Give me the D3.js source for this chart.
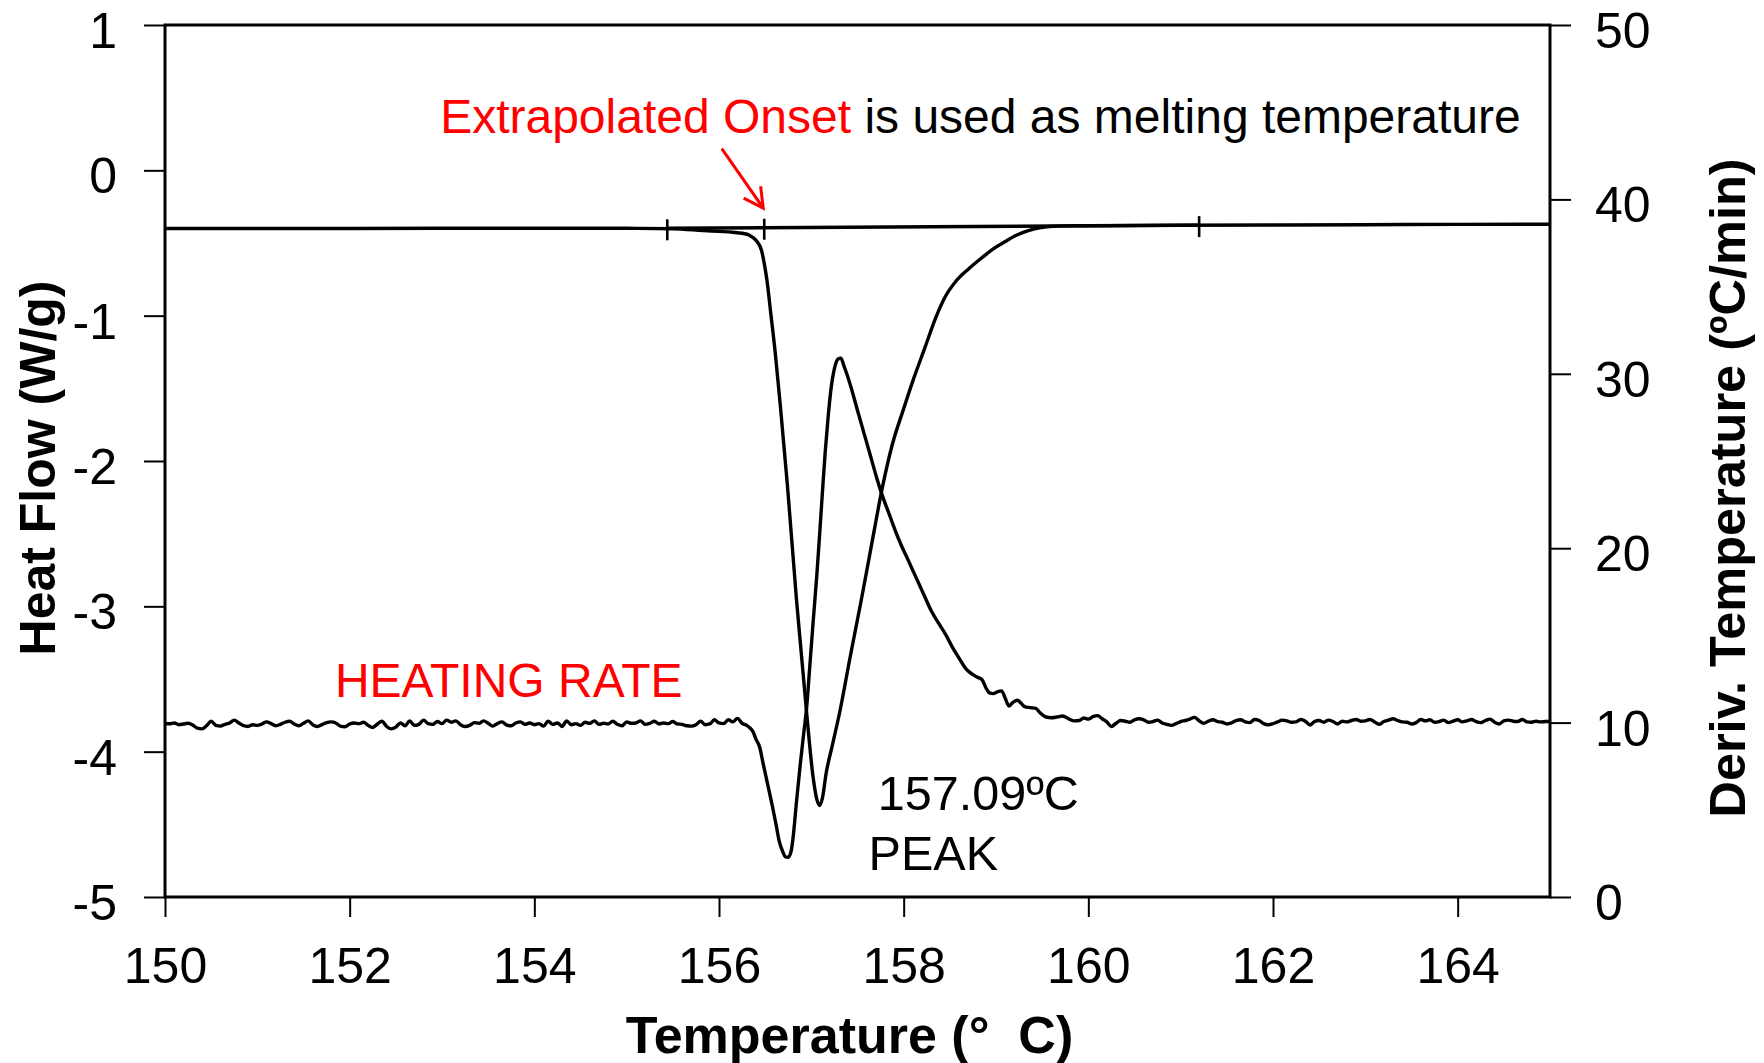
<!DOCTYPE html>
<html>
<head>
<meta charset="utf-8">
<script src="https://cdn.jsdelivr.net/npm/d3@7"></script>
<style>
  html, body { margin: 0; padding: 0; background: #fff; }
  svg { display: block; font-family: "Liberation Sans", Arial, Helvetica, sans-serif; }
</style>
</head>
<body>
<svg id="chart" width="1764" height="1063"></svg>
<script>
// ---- axis ticks ----
const tempTicks = [150, 152, 154, 156, 158, 160, 162, 164];
const heatFlowTicks = [-5, -4, -3, -2, -1, 0, 1];
const rateTicks = [0, 10, 20, 30, 40, 50];

// ---- DSC heat flow (W/g) vs temperature (°C) ----
const heatFlow = [
  [150.00, -0.400], [151.00, -0.400], [152.00, -0.400], [153.00, -0.399],
  [154.00, -0.399], [155.00, -0.399], [155.50, -0.402], [155.83, -0.414],
  [156.00, -0.420], [156.15, -0.426], [156.25, -0.433], [156.33, -0.447],
  [156.40, -0.481], [156.46, -0.550], [156.49, -0.640], [156.52, -0.760],
  [156.56, -0.980], [156.61, -1.260], [156.67, -1.660], [156.74, -2.160],
  [156.84, -2.960], [156.95, -3.740], [157.02, -4.180], [157.06, -4.330],
  [157.09, -4.370], [157.12, -4.320], [157.16, -4.150], [157.23, -3.950],
  [157.31, -3.720], [157.42, -3.350], [157.54, -2.960], [157.66, -2.550],
  [157.77, -2.180], [157.88, -1.880], [158.00, -1.640], [158.11, -1.430],
  [158.23, -1.220], [158.35, -1.010], [158.45, -0.870], [158.57, -0.760],
  [158.70, -0.680], [158.85, -0.600], [158.97, -0.540], [159.10, -0.490],
  [159.22, -0.447], [159.35, -0.415], [159.47, -0.396], [159.58, -0.386],
  [159.75, -0.382], [160.00, -0.381], [161.00, -0.378], [162.00, -0.376],
  [163.00, -0.374], [164.00, -0.372], [165.00, -0.371]
];

// ---- derivative of temperature: heating rate (°C/min) ----
const heatingRate = [
  [150.00, 9.95], [150.05, 9.93], [150.10, 9.98], [150.15, 9.88], [150.20, 9.92],
  [150.25, 9.96], [150.30, 9.86], [150.35, 9.68], [150.40, 9.64], [150.45, 9.82],
  [150.50, 10.08], [150.55, 9.84], [150.60, 9.80], [150.65, 9.90], [150.70, 9.98],
  [150.75, 10.14], [150.80, 9.98], [150.85, 9.82], [150.90, 9.78], [150.95, 9.88],
  [151.00, 9.84], [151.05, 9.92], [151.10, 10.04], [151.15, 9.94], [151.20, 9.82],
  [151.25, 9.90], [151.30, 10.02], [151.35, 10.08], [151.40, 9.92], [151.45, 9.82],
  [151.50, 9.96], [151.55, 10.10], [151.60, 9.88], [151.65, 9.78], [151.70, 9.88],
  [151.75, 10.00], [151.80, 10.04], [151.85, 9.98], [151.90, 9.80], [151.95, 9.76],
  [152.00, 9.92], [152.05, 9.98], [152.10, 9.94], [152.15, 10.02], [152.20, 9.84],
  [152.25, 9.72], [152.30, 9.92], [152.35, 10.08], [152.40, 9.78], [152.45, 9.64],
  [152.50, 9.74], [152.55, 9.98], [152.60, 9.82], [152.65, 10.10], [152.70, 9.84],
  [152.75, 9.90], [152.80, 10.14], [152.85, 9.94], [152.90, 9.90], [152.95, 10.06],
  [153.00, 9.94], [153.05, 10.14], [153.10, 10.02], [153.15, 10.10], [153.20, 9.88],
  [153.25, 9.78], [153.30, 9.84], [153.35, 10.00], [153.40, 9.96], [153.45, 10.10],
  [153.50, 9.96], [153.55, 9.80], [153.60, 9.94], [153.65, 10.04], [153.70, 9.86],
  [153.75, 9.82], [153.80, 9.98], [153.85, 10.04], [153.90, 9.90], [153.95, 9.98],
  [154.00, 9.88], [154.05, 9.94], [154.10, 9.80], [154.15, 10.08], [154.20, 9.90],
  [154.25, 9.98], [154.30, 9.78], [154.35, 10.10], [154.40, 9.88], [154.45, 9.94],
  [154.50, 9.84], [154.55, 10.02], [154.60, 9.96], [154.65, 10.10], [154.70, 9.90],
  [154.75, 9.96], [154.80, 9.92], [154.85, 10.08], [154.90, 9.90], [154.95, 9.82],
  [155.00, 10.04], [155.05, 9.96], [155.10, 9.98], [155.15, 10.10], [155.20, 9.90],
  [155.25, 9.96], [155.30, 10.08], [155.35, 9.92], [155.40, 9.98], [155.45, 9.94],
  [155.50, 10.06], [155.55, 9.92], [155.60, 9.90], [155.65, 9.82], [155.70, 9.80],
  [155.75, 9.88], [155.80, 10.08], [155.85, 9.88], [155.90, 9.92], [155.95, 10.16],
  [156.00, 9.98], [156.05, 9.94], [156.10, 10.16], [156.15, 10.04], [156.20, 10.24],
  [156.25, 9.96], [156.30, 9.84], [156.33, 9.72], [156.37, 9.46], [156.40, 9.05],
  [156.44, 8.60], [156.48, 7.60], [156.51, 6.88], [156.55, 5.90], [156.58, 5.16],
  [156.62, 4.10], [156.65, 3.25], [156.69, 2.60], [156.72, 2.30], [156.75, 2.28],
  [156.78, 2.60], [156.80, 3.30], [156.84, 5.50], [156.88, 7.60], [156.92, 9.50],
  [156.95, 10.90], [156.98, 13.00], [157.02, 15.80], [157.06, 18.50], [157.09, 20.80],
  [157.12, 23.20], [157.15, 25.50], [157.18, 27.40], [157.21, 29.00], [157.25, 30.30],
  [157.29, 30.85], [157.32, 30.90], [157.35, 30.50], [157.39, 29.90], [157.42, 29.40],
  [157.50, 27.90], [157.57, 26.60], [157.64, 25.30], [157.71, 24.00], [157.77, 23.00],
  [157.84, 22.00], [157.91, 21.00], [157.98, 20.10], [158.05, 19.30], [158.11, 18.60],
  [158.17, 17.90], [158.23, 17.20], [158.30, 16.40], [158.39, 15.60], [158.46, 15.00],
  [158.53, 14.30], [158.60, 13.70], [158.68, 13.05], [158.75, 12.75], [158.80, 12.60],
  [158.85, 12.45], [158.89, 12.00], [158.93, 11.70], [158.97, 11.66], [159.02, 11.78],
  [159.06, 11.82], [159.10, 11.40], [159.14, 10.95], [159.18, 11.15], [159.23, 11.28],
  [159.27, 11.12], [159.31, 10.92], [159.37, 10.86], [159.43, 10.82], [159.48, 10.55],
  [159.54, 10.32], [159.60, 10.28], [159.66, 10.32], [159.72, 10.38], [159.76, 10.30],
  [159.80, 10.18], [159.85, 10.10], [159.90, 10.12], [159.95, 10.26], [160.00, 10.20],
  [160.05, 10.34], [160.10, 10.40], [160.15, 10.22], [160.20, 10.04], [160.25, 9.78],
  [160.30, 9.96], [160.35, 10.12], [160.40, 10.08], [160.45, 10.02], [160.50, 10.16],
  [160.55, 10.22], [160.60, 10.16], [160.65, 10.02], [160.70, 10.06], [160.75, 10.14],
  [160.80, 9.98], [160.85, 9.90], [160.90, 9.84], [160.95, 9.94], [161.00, 10.06],
  [161.05, 10.12], [161.10, 10.20], [161.15, 10.30], [161.20, 10.10], [161.25, 9.96],
  [161.30, 10.08], [161.35, 10.16], [161.40, 10.06], [161.45, 10.02], [161.50, 9.92],
  [161.55, 9.98], [161.60, 10.12], [161.65, 10.16], [161.70, 10.04], [161.75, 10.00],
  [161.80, 10.18], [161.85, 10.12], [161.90, 9.94], [161.95, 9.88], [162.00, 9.94],
  [162.05, 10.04], [162.10, 10.14], [162.15, 10.10], [162.20, 10.02], [162.25, 10.04],
  [162.30, 10.18], [162.35, 10.08], [162.40, 9.86], [162.45, 10.06], [162.50, 10.12],
  [162.55, 10.02], [162.60, 10.14], [162.65, 10.06], [162.70, 9.92], [162.75, 10.08],
  [162.80, 10.04], [162.85, 10.12], [162.90, 10.18], [162.95, 10.08], [163.00, 10.10],
  [163.05, 10.18], [163.10, 10.04], [163.15, 9.90], [163.20, 10.06], [163.25, 10.14],
  [163.30, 10.22], [163.35, 10.12], [163.40, 10.04], [163.45, 10.02], [163.50, 9.92],
  [163.55, 10.00], [163.60, 10.18], [163.65, 10.10], [163.70, 10.16], [163.75, 10.02],
  [163.80, 10.06], [163.85, 10.14], [163.90, 10.00], [163.95, 10.08], [164.00, 10.16],
  [164.05, 10.04], [164.10, 10.10], [164.15, 10.18], [164.20, 10.06], [164.25, 10.00],
  [164.30, 10.12], [164.35, 10.20], [164.40, 10.02], [164.45, 9.92], [164.50, 10.10],
  [164.55, 10.14], [164.60, 10.08], [164.65, 10.06], [164.70, 10.18], [164.75, 10.04],
  [164.80, 10.02], [164.85, 10.08], [164.90, 10.04], [164.95, 10.06], [165.00, 10.06]
];

// ---- integration baseline and its markers ----
const baselineStart = [155.44, -0.399];
const baselineEnd = [161.20, -0.377];
const onsetTemp = 156.49;
const peakTemp = 157.09;

// ---- layout ----
const svg = d3.select("#chart");
const plot = { left: 165, right: 1550, top: 25, bottom: 897 };

const x = d3.scaleLinear().domain([150, 165]).range([plot.left, plot.right]);
const yHF = d3.scaleLinear().domain([-5, 1]).range([plot.bottom, plot.top]);
const yRate = d3.scaleLinear().domain([0, 50]).range([plot.bottom, plot.top]);

const tickFont = 50;

function styleAxis(g) {
  g.select(".domain").remove();
  g.selectAll(".tick line").attr("stroke", "#000").attr("stroke-width", 2);
  g.selectAll(".tick text")
    .attr("fill", "#000")
    .attr("font-size", tickFont)
    .attr("font-family", "Liberation Sans, Arial, Helvetica, sans-serif");
}

// bottom temperature axis
svg.append("g")
  .attr("transform", `translate(0,${plot.bottom})`)
  .call(d3.axisBottom(x).tickValues(tempTicks).tickSize(20).tickSizeOuter(0)
    .tickPadding(30).tickFormat(d => String(d)))
  .call(styleAxis);

// left heat flow axis
svg.append("g")
  .attr("transform", `translate(${plot.left},0)`)
  .call(d3.axisLeft(yHF).tickValues(heatFlowTicks).tickSize(21).tickSizeOuter(0)
    .tickPadding(27).tickFormat(d => String(d)))
  .call(styleAxis)
  .call(g => g.selectAll(".tick text").attr("dy", "0.45em"));

// right heating-rate axis
svg.append("g")
  .attr("transform", `translate(${plot.right},0)`)
  .call(d3.axisRight(yRate).tickValues(rateTicks).tickSize(21).tickSizeOuter(0)
    .tickPadding(24).tickFormat(d => String(d)))
  .call(styleAxis)
  .call(g => g.selectAll(".tick text").attr("dy", "0.45em"));

// plot frame
svg.append("rect")
  .attr("x", plot.left).attr("y", plot.top)
  .attr("width", plot.right - plot.left).attr("height", plot.bottom - plot.top)
  .attr("fill", "none").attr("stroke", "#000").attr("stroke-width", 3);

svg.append("clipPath").attr("id", "plot-clip")
  .append("rect")
  .attr("x", plot.left).attr("y", plot.top)
  .attr("width", plot.right - plot.left).attr("height", plot.bottom - plot.top);

const curves = svg.append("g").attr("clip-path", "url(#plot-clip)");

// heating rate trace
curves.append("path")
  .datum(heatingRate)
  .attr("fill", "none").attr("stroke", "#000").attr("stroke-width", 3.4)
  .attr("stroke-linejoin", "round")
  .attr("d", d3.line().x(d => x(d[0])).y(d => yRate(d[1])).curve(d3.curveMonotoneX));

// heat flow trace
curves.append("path")
  .datum(heatFlow)
  .attr("fill", "none").attr("stroke", "#000").attr("stroke-width", 3.4)
  .attr("stroke-linejoin", "round")
  .attr("d", d3.line().x(d => x(d[0])).y(d => yHF(d[1])).curve(d3.curveMonotoneX));

// integration baseline
curves.append("line")
  .attr("x1", x(baselineStart[0])).attr("y1", yHF(baselineStart[1]))
  .attr("x2", x(baselineEnd[0])).attr("y2", yHF(baselineEnd[1]))
  .attr("stroke", "#000").attr("stroke-width", 3.4);

// limit / onset markers on the baseline
const baselineAt = t => baselineStart[1] +
  (baselineEnd[1] - baselineStart[1]) * (t - baselineStart[0]) / (baselineEnd[0] - baselineStart[0]);
[baselineStart[0], onsetTemp, baselineEnd[0]].forEach(t => {
  const cy = yHF(baselineAt(t));
  curves.append("line")
    .attr("x1", x(t)).attr("x2", x(t))
    .attr("y1", cy - 9).attr("y2", cy + 12)
    .attr("stroke", "#000").attr("stroke-width", 2.6);
});

// red arrow pointing at the extrapolated onset
const tip = [x(onsetTemp) - 1, yHF(-0.26)];
const tail = [x(156.03), yHF(0.15)];
const ang = Math.atan2(tip[1] - tail[1], tip[0] - tail[0]);
const barbLen = 22, spread = 28 * Math.PI / 180;
const barbA = [tip[0] - barbLen * Math.cos(ang - spread), tip[1] - barbLen * Math.sin(ang - spread)];
const barbB = [tip[0] - barbLen * Math.cos(ang + spread), tip[1] - barbLen * Math.sin(ang + spread)];
svg.append("line")
  .attr("x1", tail[0]).attr("y1", tail[1]).attr("x2", tip[0]).attr("y2", tip[1])
  .attr("stroke", "#ff0000").attr("stroke-width", 3);
svg.append("path")
  .attr("d", `M${barbA[0]},${barbA[1]}L${tip[0]},${tip[1]}L${barbB[0]},${barbB[1]}`)
  .attr("fill", "none").attr("stroke", "#ff0000").attr("stroke-width", 3)
  .attr("stroke-linejoin", "miter");

// annotations
const note = svg.append("text")
  .attr("x", x(152.98)).attr("y", yHF(0.255))
  .attr("font-size", 48).attr("fill", "#000");
note.append("tspan").attr("fill", "#ff0000").text("Extrapolated Onset");
note.append("tspan").text(" is used as melting temperature");

svg.append("text")
  .attr("x", x(151.84)).attr("y", yRate(11.46))
  .attr("font-size", 48).attr("fill", "#ff0000")
  .text("HEATING RATE");

svg.append("text")
  .attr("x", x(157.72)).attr("y", yRate(5.0))
  .attr("font-size", 48.5).attr("fill", "#000")
  .text(peakTemp.toFixed(2) + "\u00BAC");

svg.append("text")
  .attr("x", x(157.62)).attr("y", yRate(1.53))
  .attr("font-size", 48.5).attr("fill", "#000")
  .text("PEAK");

// axis titles
svg.append("text")
  .attr("x", (plot.left + plot.right) / 2 - 8).attr("y", 1053)
  .attr("text-anchor", "middle").attr("font-size", 52).attr("font-weight", "bold")
  .attr("xml:space", "preserve")
  .text("Temperature (\u00B0  C)");

svg.append("text")
  .attr("transform", `translate(55,468) rotate(-90)`)
  .attr("text-anchor", "middle").attr("font-size", 50).attr("font-weight", "bold")
  .text("Heat Flow (W/g)");

svg.append("text")
  .attr("transform", `translate(1745,488) rotate(-90)`)
  .attr("text-anchor", "middle").attr("font-size", 50.5).attr("font-weight", "bold")
  .text("Deriv. Temperature (\u00BAC/min)");
</script>
</body>
</html>
